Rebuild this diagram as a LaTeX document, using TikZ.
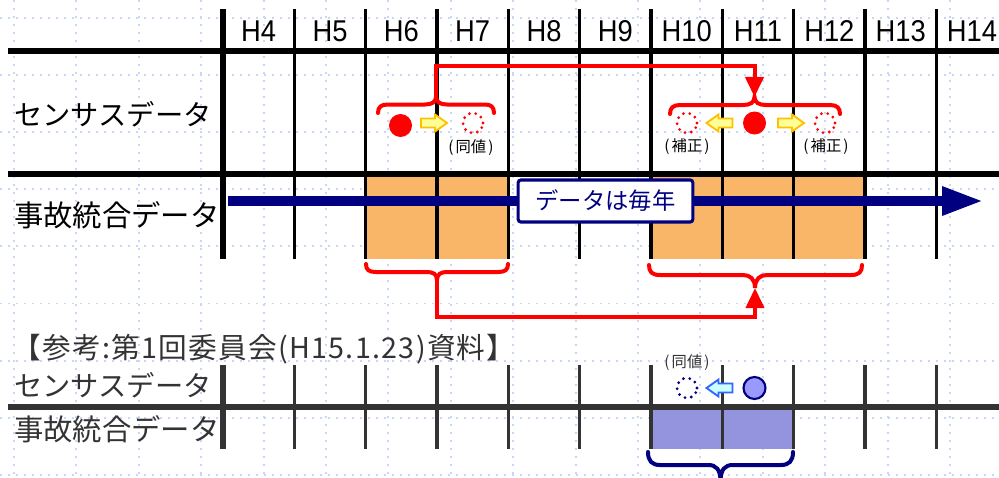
\documentclass[tikz,border=0pt]{standalone}
\usepackage{fontspec}
\setmainfont{Noto Sans CJK JP}
\newfontfamily\hfont{Liberation Sans}
\newfontfamily\spacedjp[LetterSpace=4.5]{Noto Sans CJK JP}
\usetikzlibrary{arrows.meta}
\definecolor{navy}{RGB}{0,0,128}
\definecolor{gridblue}{RGB}{200,214,250}
\definecolor{orangefill}{RGB}{250,182,104}
\definecolor{bluefill}{RGB}{148,148,222}
\definecolor{darkgray3}{RGB}{51,51,51}
\definecolor{yelfill}{RGB}{255,255,153}
\definecolor{yeldraw}{RGB}{255,192,0}
\definecolor{cyanfill}{RGB}{204,255,255}
\definecolor{cyandraw}{RGB}{51,102,255}
\definecolor{circblue}{RGB}{153,153,255}
\tikzset{
  gridline/.style={gridblue, line width=1.4pt, dash pattern=on 1.5pt off 4.5pt},
  thickrule/.style={line width=3.9pt},
  colrule/.style={line width=2.6pt},
  hlabel/.style={font=\hfont\fontsize{20.5}{24}\selectfont, inner sep=0pt},
  rowlabel/.style={font=\fontsize{21.2}{25}\selectfont, inner sep=0pt, anchor=west},
  accrowlabel/.style={font=\fontsize{22}{26}\selectfont, inner sep=0pt, anchor=west},
  smalllabel/.style={font=\fontsize{11.5}{13}\selectfont, inner sep=0pt},
  reflabel/.style={font=\spacedjp\fontsize{21.5}{25}\selectfont, inner sep=0pt, anchor=west, text=darkgray3},
  redbrace/.style={red, line width=3pt, line cap=round},
  navybrace/.style={navy, line width=3pt, line cap=round},
  redlink/.style={red, line width=3pt, -{Triangle[length=15pt,width=13.5pt]}},
  solidred/.style={circle, fill=red, minimum size=17.25pt, inner sep=0pt},
  dotcircle/.style={circle, draw=#1, line width=2.3pt, dash pattern=on 0pt off 4.8pt, line cap=round, minimum size=15pt, inner sep=0pt},
  bluecircle/.style={circle, fill=circblue, draw=navy, line width=1.6pt, minimum size=16.5pt, inner sep=0pt},
  yarrow/.style={fill=yelfill, draw=yeldraw, line width=1.4pt, line join=miter},
  carrow/.style={fill=cyanfill, draw=cyandraw, line width=1.4pt, line join=miter},
  pics/blockarrow/.style={code={\filldraw[#1] (-13,-4.5) -- (1,-4.5) -- (1,-8.5) -- (13,0) -- (1,8.5) -- (1,4.5) -- (-13,4.5) -- cycle;}},
  yearbox/.style={draw=navy, line width=2.3pt, fill=white, rounded corners=2pt, text=navy, font=\fontsize{17.5}{20}\selectfont, minimum width=131pt, minimum height=31.5pt, inner sep=0pt}
}
\begin{document}
\begin{tikzpicture}[x=0.75pt,y=-0.75pt]
\useasboundingbox (0,0) rectangle (999,478);
\fill[white] (0,0) rectangle (999,478);
% background grid
\foreach \i in {0,...,15} \draw[gridline] ({14+62.4*\i},0) -- ({14+62.4*\i},478);
\foreach \j in {0,...,8} \draw[gridline] (0,{18+57.1*\j}) -- (999,{18+57.1*\j});

% ===== upper table =====
\fill[orangefill] (365.7,174) rectangle (508.3,259);
\fill[orangefill] (651,174) rectangle (865,259);
\draw[thickrule, line width=4.5pt] (8,51) -- (999,51);
\draw[thickrule] (8,174) -- (999,174);
\draw[thickrule] (223,9) -- (223,259);
\foreach \k in {1,...,10} \draw[colrule] ({223+71.33*\k},9) -- ({223+71.33*\k},259);

% year labels
\foreach \n [count=\k from 0] in {4,...,14}
  \node[hlabel] (h\n) at ({258.7+71.33*\k},31) {\scalebox{1}[1.1]{H\n}};

% row labels
\node[rowlabel] (census) at (14,114) {センサスデータ};
\node[accrowlabel] (accident) at (14,215) {事故統合データ};

% navy arrow
\coordinate (navystart) at (228,201);
\coordinate (navyend) at (983,201);
\draw[navy, line width=6.8pt, -{Triangle[length=30.75pt,width=20.25pt]}] (navystart) -- (navyend);
\node[yearbox] (yearly) at (605.5,201) {データは毎年};

% sensor points (upper)
\node[solidred] (c6) at (400.5,125.5) {};
\pic at (434,123) {blockarrow=yarrow};
\node[dotcircle=red] (d7) at (473,123) {};
\node[smalllabel] (l7) at (471,147.5) {(\hspace{1.5pt}同値\hspace{1.5pt})};

\node[dotcircle=red] (d10) at (687,123) {};
\pic[rotate=180] at (719.5,123) {blockarrow=yarrow};
\node[solidred] (c11) at (754.5,123) {};
\pic at (791,123) {blockarrow=yarrow};
\node[dotcircle=red] (d12) at (825,123) {};
\node[smalllabel] (l10) at (687,147) {(\hspace{1.5pt}補正\hspace{1.5pt})};
\node[smalllabel] (l12) at (826,147) {(\hspace{1.5pt}補正\hspace{1.5pt})};

% braces (upper)
\draw[redbrace] (378,113) .. controls (378,107) and (381,104.5) .. (388,104.5) -- (425,104.5) .. controls (432,104.5) and (436,102) .. (436,96.5) .. controls (436,102) and (440,104.5) .. (447,104.5) -- (485,104.5) .. controls (491,104.5) and (494,107) .. (494,113);
\coordinate (tlb) at (436,96.5);
\draw[redbrace] (670,114) .. controls (670,108) and (673,105) .. (680,105) -- (743,105) .. controls (750,105) and (754.5,102.5) .. (754.5,97) .. controls (754.5,102.5) and (759,105) .. (766,105) -- (830,105) .. controls (837,105) and (840,108) .. (840,114);
\coordinate (trb) at (754.5,97);
\draw[redlink] (tlb) -- ++(0,-30) -| (trb);

\draw[redbrace] (366,264) .. controls (366,270) and (369,272) .. (376,272) -- (427,272) .. controls (433,272) and (437,274) .. (437,280) .. controls (437,274) and (441,272) .. (447,272) -- (498,272) .. controls (505,272) and (508,270) .. (508,264);
\coordinate (blb) at (437,280);
\draw[redbrace] (649,265) .. controls (649,272) and (652,275) .. (660,275) -- (743,275) .. controls (750,275) and (755,279) .. (755,288) .. controls (755,279) and (760,275) .. (767,275) -- (851,275) .. controls (859,275) and (862,272) .. (862,265);
\coordinate (brb) at (755,288);
\draw[redlink] (blb) -- ++(0,37) -| (brb);

% ===== lower (reference) table =====
\node[reflabel] (ref) at (12,349) {【参考:第1回委員会(H15.1.23)資料】};
\node[rowlabel, text=darkgray3] (census2) at (14,385) {センサスデータ};
\node[accrowlabel, text=darkgray3] (accident2) at (14,429) {事故統合データ};
\fill[bluefill] (651,407) rectangle (793.7,449);
\draw[thickrule, darkgray3] (8,407) -- (999,407);
\draw[thickrule, darkgray3] (223,365) -- (223,449);
\foreach \k in {1,...,10} \draw[colrule, darkgray3] ({223+71.33*\k},365) -- ({223+71.33*\k},449);

\node[smalllabel, text=darkgray3] (l10b) at (687,363) {(\hspace{1.5pt}同値\hspace{1.5pt})};
\node[dotcircle=navy] (d10b) at (687,388) {};
\pic[rotate=180] at (719.5,388) {blockarrow=carrow};
\node[bluecircle] (c11b) at (754.5,388) {};

\draw[navybrace] (648,452) .. controls (648,461) and (652,465) .. (660,465) -- (708,465) .. controls (716,465) and (720.5,469) .. (720.5,482) .. controls (720.5,469) and (725,465) .. (733,465) -- (781,465) .. controls (789,465) and (793,461) .. (793,452);
\end{tikzpicture}
\end{document}
